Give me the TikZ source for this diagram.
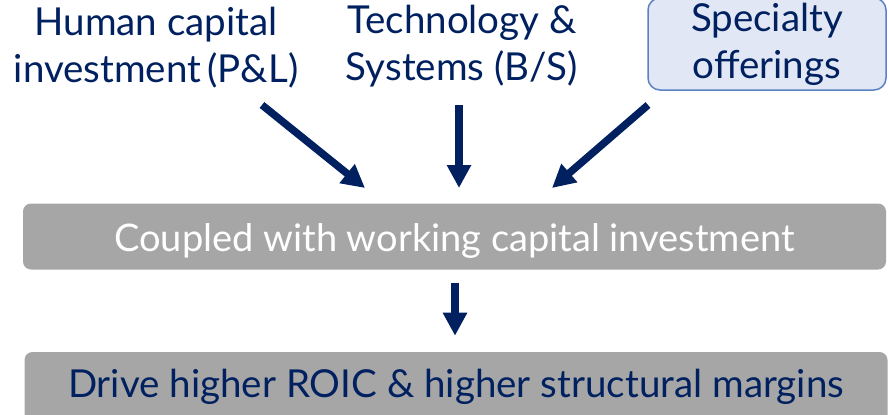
\documentclass[tikz,border=0pt]{standalone}
\usepackage{fontspec}
\setmainfont{Lato}
\usetikzlibrary{positioning,arrows.meta}
\definecolor{navy}{HTML}{002060}
\definecolor{boxgray}{HTML}{A6A6A6}
\definecolor{paleblue}{HTML}{E1E7F4}
\definecolor{edgeblue}{HTML}{5B82C3}

\begin{document}
\begin{tikzpicture}[x=1pt, y=-1pt,
  driver/.style={align=center, text=navy, font=\fontsize{38.5}{47}\selectfont},
  bar/.style={rounded corners=8pt, fill=boxgray, minimum width=863pt, minimum height=66pt,
    text height=30pt, text depth=0pt, font=\fontsize{38}{44}\selectfont},
  arr/.style={navy, line width=7.5pt, -{Triangle[width=23pt, length=23pt]}}]
\useasboundingbox (0, 0) rectangle (889, 415);

\node[driver] (human) at (156, 48) {Human capital\\investment\,(P\&L)};
\node[driver] (tech) at (462, 46.5) {Technology \&\\Systems (B/S)};
\node[driver, draw=edgeblue, line width=1.5pt, fill=paleblue, rounded corners=12pt,
  minimum width=238pt, minimum height=92pt] (special) at (767, 44) {Specialty\\offerings};

\node[bar, text=white] (coupled) at (454.5, 236.5) {Coupled with working capital investment};
\node[bar, text=navy, minimum height=74pt, text height=24pt, text depth=8pt,
  font=\fontsize{38.5}{44}\selectfont] (drive) at (456, 389)
  {Drive higher ROIC \& higher structural margins};

% arrow ends
\coordinate (h1) at (262, 105);
\coordinate (h2) at (365, 188);
\coordinate (t1) at (459, 105);
\coordinate (t2) at (459, 188);
\coordinate (s1) at (648, 105);
\coordinate (s2) at (552, 188);

\draw[arr] (h1) -- (h2);
\draw[arr] (t1) -- (t2);
\draw[arr] (s1) -- (s2);
\draw[arr] (coupled.south -| 455, 0) ++(0, 13) -- ++(0, 53);

\end{tikzpicture}
\end{document}
